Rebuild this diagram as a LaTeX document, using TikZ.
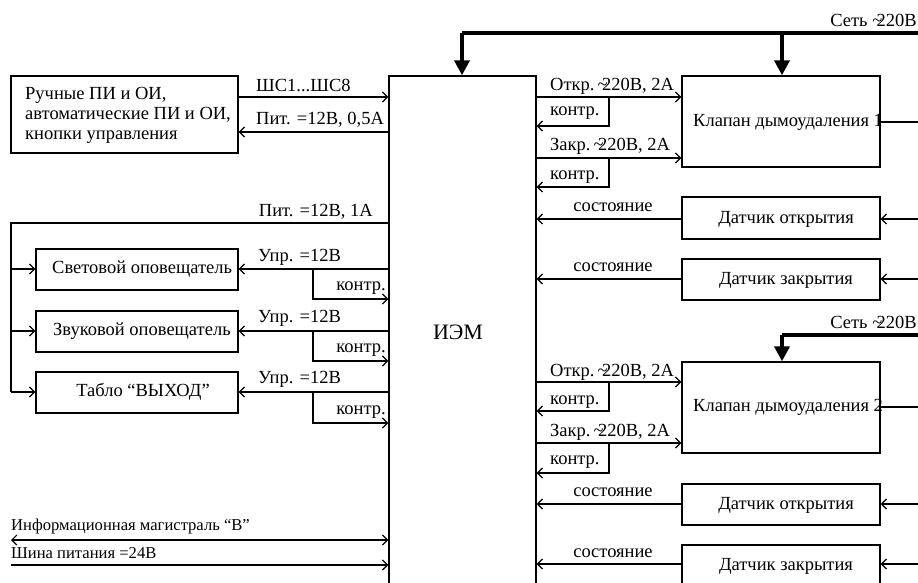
\documentclass[tikz,border=0pt]{standalone}
\usepackage{fontspec}
\setmainfont{Liberation Serif}
\usetikzlibrary{arrows.meta}
\newcommand\fs{\fontsize{18.5}{20}\selectfont}
\newcommand\fss{\fontsize{16.6}{20}\selectfont}
\newcommand\fsl{\fontsize{22}{24}\selectfont}
\newcommand\tld{\textasciitilde\kern-0.3em}
\tikzset{
  box/.style={draw, line width=1.4pt, rectangle, inner sep=0pt},
  ln/.style={line width=1.4pt},
  arr/.style={ln, -{Straight Barb[length=5pt,width=10pt,line width=1.2pt]}},
  darr/.style={ln, {Straight Barb[length=5pt,width=10pt,line width=1.2pt]}-{Straight Barb[length=5pt,width=10pt,line width=1.2pt]}},
  bus/.style={line width=4pt},
  busarr/.style={line width=4pt, -{Triangle[length=15pt,width=15pt]}},
  lbl/.style={inner sep=0pt, font=\fs},
  slbl/.style={inner sep=0pt, font=\fss},
}
\begin{document}
\begin{tikzpicture}[x=1pt,y=-1pt]
\useasboundingbox (0,0) rectangle (918,582);
\clip (0,0) rectangle (918,582);
\fill[white] (0,0) rectangle (918,582);

% boxes
\node[box, minimum width=227pt, minimum height=77pt] (pi) at (124.5,114.5) {};
\node[box, minimum width=147pt, minimum height=540pt] (iem) at (462.5,346) {};
\node[box, minimum width=198pt, minimum height=91pt] (k1) at (781,121.5) {};
\node[box, minimum width=198pt, minimum height=42pt] (do1) at (781,218) {};
\node[box, minimum width=198pt, minimum height=41pt] (dz1) at (781,279.5) {};
\node[box, minimum width=198pt, minimum height=91pt] (k2) at (781,407.5) {};
\node[box, minimum width=198pt, minimum height=41pt] (do2) at (781,504.5) {};
\node[box, minimum width=198pt, minimum height=41pt] (dz2) at (781,565.5) {};
\node[box, minimum width=202pt, minimum height=41pt] (sv) at (137,269.5) {};
\node[box, minimum width=202pt, minimum height=41pt] (zv) at (137,331.5) {};
\node[box, minimum width=202pt, minimum height=41pt] (tb) at (137,392.5) {};

% box texts
\node[lbl, anchor=west, align=left] (pitxt) at (25,115) {Ручные ПИ и ОИ,\\автоматические ПИ и ОИ,\\кнопки управления};
\node[inner sep=0pt, font=\fsl] (iemtxt) at (458,332) {ИЭМ};
\node[lbl, anchor=west] (k1txt) at (693,122) {Клапан дымоудаления 1};
\node[lbl, anchor=west] (k2txt) at (693,407) {Клапан дымоудаления 2};
\node[lbl] (do1txt) at (786,219) {Датчик открытия};
\node[lbl] (dz1txt) at (786,280) {Датчик закрытия};
\node[lbl] (do2txt) at (786,505) {Датчик открытия};
\node[lbl] (dz2txt) at (786,566) {Датчик закрытия};
\node[lbl, anchor=west] (svtxt) at (52,269) {Световой оповещатель};
\node[lbl, anchor=west] (zvtxt) at (53,331) {Звуковой оповещатель};
\node[lbl] (tbtxt) at (143,392) {Табло “ВЫХОД”};

% power bus
\coordinate (b1) at (462,33);
\coordinate (b1e) at (918,33);
\coordinate (b1k) at (782,33);
\draw[bus] (b1) -- (b1e);
\draw[busarr] (b1) -- (b1 |- iem.north);
\draw[busarr] (b1k) -- (b1k |- k1.north);
\node[lbl, anchor=east] (net1) at (917,20) {Сеть \tld220В};
\coordinate (b2) at (782,335);
\coordinate (b2e) at (918,335);
\draw[bus] (b2) -- (b2e);
\draw[busarr] (b2) -- (b2 |- k2.north);
\node[lbl, anchor=east] (net2) at (917,322) {Сеть \tld220В};

% top-left
\draw[arr] (pi.east |- 0,97) -- (iem.west |- 0,97);
\draw[arr] (iem.west |- 0,132) -- (pi.east |- 0,132);
\node[lbl, anchor=west] at (256,85) {ШС1...ШС8};
\node[lbl, anchor=west] at (256,120) {Пит. =12В, 0,5А};

% left feed
\coordinate (fl) at (11,223);
\draw[ln] (iem.west |- 0,223) -- (fl) -- (11,392);
\draw[arr] (11,269) -- (sv.west |- 0,269);
\draw[arr] (11,331) -- (zv.west |- 0,331);
\draw[arr] (11,392) -- (tb.west |- 0,392);
\node[lbl, anchor=east] at (373,212) {Пит. =12В, 1А};

\draw[arr] (iem.west |- 0,269) -- (sv.east |- 0,269);
\draw[arr] (313,269) -- (313,299) -- (iem.west |- 0,299);
\node[lbl, anchor=west] at (258,257) {Упр. =12В};
\node[lbl, anchor=east] at (386,288) {контр.};

\draw[arr] (iem.west |- 0,331) -- (zv.east |- 0,331);
\draw[arr] (313,331) -- (313,361) -- (iem.west |- 0,361);
\node[lbl, anchor=west] at (258,318) {Упр. =12В};
\node[lbl, anchor=east] at (386,350) {контр.};

\draw[arr] (iem.west |- 0,392) -- (tb.east |- 0,392);
\draw[arr] (313,392) -- (313,423) -- (iem.west |- 0,423);
\node[lbl, anchor=west] at (258,379) {Упр. =12В};
\node[lbl, anchor=east] at (386,412) {контр.};

% bottom buses
\draw[darr] (11,540) -- (iem.west |- 0,540);
\draw[arr] (11,565) -- (iem.west |- 0,565);
\node[slbl, anchor=west] at (11,526) {Информационная магистраль “В”};
\node[slbl, anchor=west] at (11,553) {Шина питания =24В};

% right side, valve 1
\draw[arr] (iem.east |- 0,97) -- (k1.west |- 0,97);
\draw[arr] (609,97) -- (609,126) -- (iem.east |- 0,126);
\draw[arr] (iem.east |- 0,158) -- (k1.west |- 0,158);
\draw[arr] (609,158) -- (609,187) -- (iem.east |- 0,187);
\node[lbl, anchor=west] at (550,86) {Откр.\,\tld220В, 2А};
\node[lbl, anchor=west] at (550,113) {контр.};
\node[lbl, anchor=west] at (550,146) {Закр.\,\tld220В, 2А};
\node[lbl, anchor=west] at (550,177) {контр.};
\draw[ln] (k1.east |- 0,122) -- (918,122);
\draw[arr] (do1.west |- 0,219) -- (iem.east |- 0,219);
\draw[arr] (918,219) -- (do1.east |- 0,219);
\node[lbl] at (613,207) {состояние};
\draw[arr] (dz1.west |- 0,279) -- (iem.east |- 0,279);
\draw[arr] (918,279) -- (dz1.east |- 0,279);
\node[lbl] at (613,267) {состояние};

% right side, valve 2
\draw[arr] (iem.east |- 0,382) -- (k2.west |- 0,382);
\draw[arr] (609,382) -- (609,411) -- (iem.east |- 0,411);
\draw[arr] (iem.east |- 0,443) -- (k2.west |- 0,443);
\draw[arr] (609,443) -- (609,473) -- (iem.east |- 0,473);
\node[lbl, anchor=west] at (550,372) {Откр.\,\tld220В, 2А};
\node[lbl, anchor=west] at (550,402) {контр.};
\node[lbl, anchor=west] at (550,432) {Закр.\,\tld220В, 2А};
\node[lbl, anchor=west] at (550,462) {контр.};
\draw[ln] (k2.east |- 0,407) -- (918,407);
\draw[arr] (do2.west |- 0,504) -- (iem.east |- 0,504);
\draw[arr] (918,504) -- (do2.east |- 0,504);
\node[lbl] at (613,492) {состояние};
\draw[arr] (dz2.west |- 0,564) -- (iem.east |- 0,564);
\draw[arr] (918,564) -- (dz2.east |- 0,564);
\node[lbl] at (613,553) {состояние};
\end{tikzpicture}
\end{document}
